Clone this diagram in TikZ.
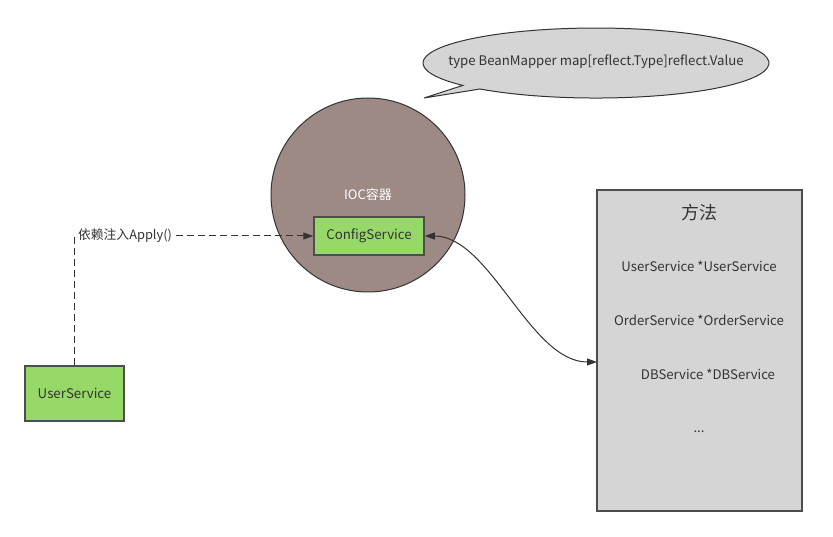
\documentclass[tikz,border=0pt]{standalone}
\usepackage{fontspec}
\setmainfont{Noto Sans CJK SC}
\usetikzlibrary{arrows.meta}
\definecolor{boxgreen}{HTML}{97D968}
\definecolor{iocfill}{HTML}{9E8A85}
\definecolor{greyfill}{HTML}{D5D5D5}
\definecolor{linec}{HTML}{333333}
\definecolor{borderc}{HTML}{4D4D4D}
\definecolor{txt}{HTML}{333333}
\begin{document}
\begin{tikzpicture}[x=1pt,y=-1pt,
  >={Triangle[length=10pt,width=7pt]},
  svcbox/.style={draw=borderc, line width=1.5pt, fill=boxgreen, text=txt, font=\fontsize{13.3}{15}\selectfont, inner sep=0pt},
  plaintext/.style={text=txt, font=\fontsize{13.2}{15}\selectfont, inner sep=0pt},
  conn/.style={draw=linec, line width=1pt}
]
\useasboundingbox (0,0) rectangle (833,537);
\fill[white] (0,0) rectangle (833,537);

% callout
\path[draw=linec, line width=1pt, fill=greyfill]
  (480,89) arc[start angle=132.1, end angle=-219.7, x radius=173, y radius=35]
  -- (424,98) -- cycle;
\node[plaintext, font=\fontsize{13.2}{15}\selectfont] (bean) at (596,62) {type BeanMapper map[reflect.Type]reflect.Value};

% IOC container
\node[circle, draw=linec, line width=1pt, fill=iocfill, minimum size=194pt, inner sep=0pt] (ioc) at (368,195) {};
\node[text=white, font=\fontsize{13}{15}\selectfont, inner sep=0pt] (ioclabel) at (368,195) {IOC容器};

% boxes
\node[svcbox, minimum width=110pt, minimum height=38pt] (cs) at (369,236) {ConfigService};
\node[svcbox, minimum width=99pt, minimum height=55pt] (us) at (74.5,393.5) {UserService};

% method box
\node[draw=borderc, line width=1.5pt, fill=greyfill, minimum width=205pt, minimum height=321pt, inner sep=0pt] (fm) at (699.5,350.5) {};
\node[text=txt, font=\fontsize{18}{20}\selectfont, inner sep=0pt] (fmtitle) at (699,213) {方法};
\node[plaintext] (m1) at (699,266) {UserService *UserService};
\node[plaintext] (m2) at (699,320) {OrderService *OrderService};
\node[plaintext] (m3) at (708,374) {DBService *DBService};
\node[plaintext] (m4) at (699,432) {...};
\coordinate (fmin) at (597,362);

% dashed dependency injection
\draw[conn, dash pattern=on 7pt off 4pt, ->] (us.north) |- (cs.west);
\node[plaintext, font=\fontsize{12.8}{15}\selectfont, fill=white, inner sep=1pt] (lbl) at (125,236) {依赖注入Apply()};

% curved double arrow
\draw[conn, <->] (cs.east) .. controls (490,236) and (530,362) .. (fmin);
\end{tikzpicture}
\end{document}
